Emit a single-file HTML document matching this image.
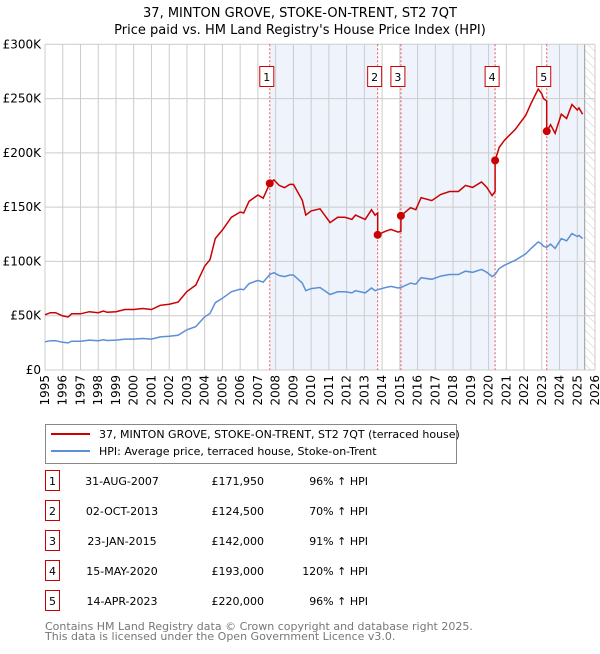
<!DOCTYPE html>
<html><head><meta charset="utf-8">
<style>
body{margin:0;background:#fff;font-family:"DejaVu Sans","Liberation Sans",sans-serif;}
svg text{font-family:"DejaVu Sans","Liberation Sans",sans-serif;}
</style></head>
<body>
<svg id="c" width="600" height="650" xmlns="http://www.w3.org/2000/svg">
<defs><pattern id="hatch" width="6" height="6" patternUnits="userSpaceOnUse" patternTransform="rotate(-45)"><line x1="0" y1="0" x2="0" y2="6" stroke="#ccc" stroke-width="1"/></pattern></defs>
<text x="300" y="17" text-anchor="middle" font-size="13">37, MINTON GROVE, STOKE-ON-TRENT, ST2 7QT</text>
<text x="300" y="34" text-anchor="middle" font-size="13">Price paid vs. HM Land Registry's House Price Index (HPI)</text>
<g id="plot"></g>
<g>
<rect x="45.5" y="424.5" width="411" height="39" fill="#fff" stroke="#888"/>
<line x1="51" y1="434" x2="90" y2="434" stroke="#cc0000" stroke-width="2"/>
<text x="99" y="438" font-size="11">37, MINTON GROVE, STOKE-ON-TRENT, ST2 7QT (terraced house)</text>
<line x1="51" y1="451" x2="90" y2="451" stroke="#5b8fd6" stroke-width="2"/>
<text x="99" y="455" font-size="11">HPI: Average price, terraced house, Stoke-on-Trent</text>
</g>
<g id="table" font-size="11"></g>
<text x="45" y="630" font-size="11" fill="#777">Contains HM Land Registry data © Crown copyright and database right 2025.</text>
<text x="45" y="640" font-size="11" fill="#777">This data is licensed under the Open Government Licence v3.0.</text>
</svg>
<script>
const hpiYears=[1995.0,1995.3,1995.6,1996.0,1996.3,1996.5,1997,1997.5,1998,1998.3,1998.5,1999,1999.5,2000,2000.5,2001,2001.5,2002,2002.5,2003,2003.5,2004,2004.3,2004.6,2005,2005.5,2006,2006.2,2006.5,2007,2007.3,2007.67,2007.9,2008.2,2008.5,2008.8,2009,2009.5,2009.7,2010,2010.5,2011.07,2011.5,2011.9,2012.3,2012.5,2013.05,2013.4,2013.6,2013.75,2014.2,2014.5,2014.9,2015.06,2015.6,2015.9,2016.2,2016.8,2017.3,2017.8,2018.3,2018.5,2018.7,2019.1,2019.6,2019.9,2020.2,2020.37,2020.6,2020.9,2021.5,2022.1,2022.4,2022.8,2023.0,2023.1,2023.28,2023.5,2023.75,2024.1,2024.4,2024.7,2025.0,2025.1,2025.3];
const hpiValues=[26,27,27,25.5,25,26.5,26.5,27.5,27,27.8,27.2,27.5,28.5,28.5,29,28.5,30.5,31,32,37,40,49,52,62,66,72,74.5,74,79.5,82.5,81,88,89.6,87,86,87.5,87.5,80,73,75,76,69.5,72,72,71,73,71,75.5,73,74,76,77,75.5,76,80,79,85,83.5,86.5,88,88,89.5,91,90,92.7,90,86,88,93.5,96.5,101,107,112,118,116,114,113,116,112,121,119,125.6,123,124,121];
const saleLabels=["1","2","3","4","5"];
const saleYears=[2007.67,2013.75,2015.06,2020.37,2023.28];
const salePrices=[171950,124500,142000,193000,220000];
const saleDates=["31-AUG-2007","02-OCT-2013","23-JAN-2015","15-MAY-2020","14-APR-2023"];
const salePct=["96% \u2191 HPI","70% \u2191 HPI","91% \u2191 HPI","120% \u2191 HPI","96% \u2191 HPI"];
const yTicks=[0,50000,100000,150000,200000,250000,300000];
const yTickLabels=["£0","£50K","£100K","£150K","£200K","£250K","£300K"];
const xTicks=[1995,1996,1997,1998,1999,2000,2001,2002,2003,2004,2005,2006,2007,2008,2009,2010,2011,2012,2013,2014,2015,2016,2017,2018,2019,2020,2021,2022,2023,2024,2025,2026];

const X0=45,X1=595,Y0=370,Y1=44.3,T0=1995,T1=2026,V1=300000,DATA_END=2025.42;
const sx=t=>X0+(t-T0)/(T1-T0)*(X1-X0);
const sy=v=>Y0-v/V1*(Y0-Y1);
const NS="http://www.w3.org/2000/svg";
const plot=document.getElementById('plot');
function mk(tag,attrs,parent){const e=document.createElementNS(NS,tag);for(const k in attrs)e.setAttribute(k,attrs[k]);(parent||plot).appendChild(e);return e;}
function interp(t){if(t<=hpiYears[0])return hpiValues[0];for(let i=1;i<hpiYears.length;i++){if(t<=hpiYears[i]){const f=(t-hpiYears[i-1])/(hpiYears[i]-hpiYears[i-1]);return hpiValues[i-1]+f*(hpiValues[i]-hpiValues[i-1]);}}return hpiValues[hpiValues.length-1];}

for(let i=0;i<saleYears.length;i+=2){
  const a=saleYears[i],b=i+1<saleYears.length?saleYears[i+1]:DATA_END;
  const r=mk('rect',{x:sx(a),y:Y1,width:sx(b)-sx(a),height:Y0-Y1,fill:'#eef3fc'});
  
  
}
const h=mk('rect',{x:sx(DATA_END),y:Y1,width:X1-sx(DATA_END),height:Y0-Y1,fill:'url(#hatch)'});


mk('line',{x1:sx(DATA_END),y1:Y1,x2:sx(DATA_END),y2:Y0,stroke:'#999','stroke-width':1});

yTicks.forEach((v,i)=>{
  const g=mk('line',{x1:X0,y1:sy(v),x2:X1,y2:sy(v),stroke:'#cccccc','stroke-width':1});
  
  
  const t=mk('text',{x:X0-4,y:sy(v)+4,'text-anchor':'end','font-size':12});
  t.textContent=yTickLabels[i];
  
  
});
xTicks.forEach(yr=>{
  const g=mk('line',{x1:sx(yr),y1:Y1,x2:sx(yr),y2:Y0,stroke:'#cccccc','stroke-width':1});
  
  
  const t=mk('text',{x:0,y:0,'text-anchor':'end','font-size':12,transform:`translate(${sx(yr)+4},${Y0+5}) rotate(-90)`});
  t.textContent=yr;
  
  
});

saleYears.forEach((s,i)=>{
  const l=mk('line',{x1:sx(s),y1:Y1,x2:sx(s),y2:Y0,stroke:'#ee5555','stroke-width':1,'stroke-dasharray':'2,2'});
  
  
  const bx=sx(s)-3;
  const r=mk('rect',{x:bx-7,y:66.5,width:14,height:20,fill:'#fff',stroke:'#cc0000'});
  
  
  const t=mk('text',{x:bx,y:81,'text-anchor':'middle','font-size':11});
  t.textContent=saleLabels[i];
  
  
});

let d='';
hpiYears.forEach((t,i)=>{d+=(i?'L':'M')+sx(t).toFixed(1)+','+sy(hpiValues[i]*1000).toFixed(1);});
const hl=mk('path',{d:d,fill:'none',stroke:'#5b8fd6','stroke-width':1.5});



function segIdx(t){let k=0;for(let i=0;i<saleYears.length;i++)if(t>=saleYears[i])k=i;return k;}
const pts=[...hpiYears,...saleYears].sort((a,b)=>a-b);
let dr='';
pts.forEach((t,i)=>{const k=segIdx(t);const v=salePrices[k]*interp(t)/interp(saleYears[k]);
  if(i>0&&saleYears.includes(t)&&k>0){const pv=salePrices[k-1]*interp(t)/interp(saleYears[k-1]);dr+='L'+sx(t).toFixed(1)+','+sy(pv).toFixed(1);}
  dr+=(i?'L':'M')+sx(t).toFixed(1)+','+sy(v).toFixed(1);});
const rl=mk('path',{d:dr,fill:'none',stroke:'#cc0000','stroke-width':1.5});


saleYears.forEach((s,i)=>{
  const c=mk('circle',{cx:sx(s),cy:sy(salePrices[i]),r:4,fill:'#cc0000'});
  
  
});

const tb=document.getElementById('table');
saleYears.forEach((s,i)=>{
  const y=483+i*30;
  const r=mk('rect',{x:45.5,y:y-12.5,width:14,height:20,fill:'#fff',stroke:'#cc0000'},tb);
  
  
  const n=mk('text',{x:52.5,y:y+2,'text-anchor':'middle','font-size':11},tb);n.textContent=saleLabels[i];
  
  
  const a=mk('text',{x:122,y:y+2,'text-anchor':'middle','font-size':11},tb);a.textContent=saleDates[i];
  
  
  const p=mk('text',{x:264,y:y+2,'text-anchor':'end','font-size':11},tb);p.textContent='£'+salePrices[i].toLocaleString('en-GB');
  
  
  const q=mk('text',{x:368,y:y+2,'text-anchor':'end','font-size':11},tb);q.textContent=salePct[i];
  
  
});
</script>
</body></html>
